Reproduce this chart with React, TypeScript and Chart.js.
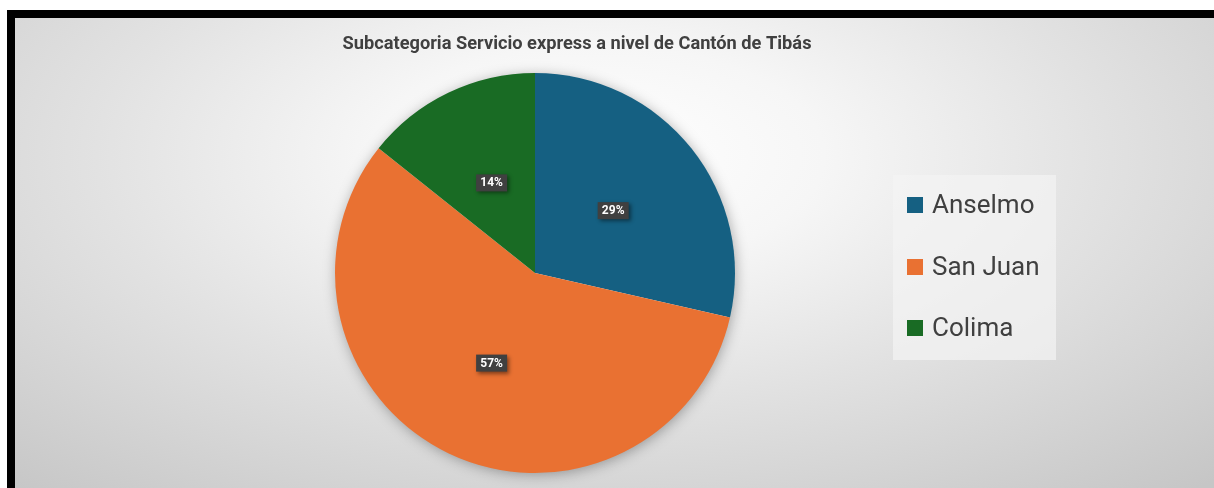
import { useEffect, useRef } from "react";
import { Chart, registerables } from "chart.js";

Chart.register(...registerables);

const chartTitle = "Subcategoria Servicio express a nivel de Cantón de Tibás";
const categories = ["Anselmo", "San Juan", "Colima"];
const values = [2, 4, 1];
const colors = ["#156082", "#E97132", "#196B24"];

const CANVAS_W = 1199;
const CANVAS_H = 470;

const decorPlugin = {
  id: "decor",
  beforeDatasetsDraw(chart: any) {
    const meta = chart.getDatasetMeta(0);
    const arc = meta.data[0];
    if (!arc) return;
    const { x, y, outerRadius } = arc.getProps(["x", "y", "outerRadius"], true);
    const ctx = chart.ctx;
    ctx.save();
    ctx.shadowColor = "rgba(0,0,0,0.35)";
    ctx.shadowBlur = 14;
    ctx.shadowOffsetX = 1;
    ctx.shadowOffsetY = 2;
    ctx.fillStyle = "#ffffff";
    ctx.beginPath();
    ctx.arc(x, y, outerRadius - 1, 0, Math.PI * 2);
    ctx.fill();
    ctx.restore();
  },
  afterDatasetsDraw(chart: any) {
    const ctx = chart.ctx;
    const meta = chart.getDatasetMeta(0);
    const data = chart.data.datasets[0].data as number[];
    const total = data.reduce((a, b) => a + b, 0);
    meta.data.forEach((arc: any, i: number) => {
      const pos = arc.tooltipPosition(true);
      const txt = Math.round((data[i] / total) * 100) + "%";
      const w = 31;
      const h = 17;
      ctx.save();
      ctx.shadowColor = "rgba(0,0,0,0.45)";
      ctx.shadowBlur = 4;
      ctx.shadowOffsetX = 2;
      ctx.shadowOffsetY = 2;
      ctx.fillStyle = "#404040";
      ctx.fillRect(pos.x - w / 2, pos.y - h / 2, w, h);
      ctx.restore();
      ctx.save();
      ctx.fillStyle = "#ffffff";
      ctx.font = "bold 12px Roboto";
      ctx.textAlign = "center";
      ctx.textBaseline = "middle";
      ctx.fillText(txt, pos.x, pos.y + 0.5);
      ctx.restore();
    });
  },
  afterDraw(chart: any) {
    const ctx = chart.ctx;
    // title
    ctx.save();
    ctx.font = "bold 19px Roboto";
    ctx.fillStyle = "#404040";
    ctx.textBaseline = "middle";
    const tw = ctx.measureText(chartTitle).width;
    const target = 469;
    const sx = target / tw;
    ctx.translate(562 - target / 2, 26);
    ctx.scale(sx, 1);
    ctx.fillText(chartTitle, 0, 0);
    ctx.restore();

    // legend
    const bx = 878, by = 157, bw = 163, bh = 185;
    ctx.save();
    ctx.fillStyle = "rgba(244,244,244,0.7)";
    ctx.fillRect(bx, by, bw, bh);
    const rows = [187, 249, 310];
    chart.data.labels.forEach((lab: string, i: number) => {
      const cy = rows[i];
      ctx.fillStyle = (chart.data.datasets[0].backgroundColor as string[])[i];
      ctx.fillRect(892, cy - 8, 16, 16);
      ctx.fillStyle = "#404040";
      ctx.font = "26px Roboto";
      ctx.textBaseline = "middle";
      ctx.textAlign = "left";
      ctx.fillText(lab, 917, cy + 1);
    });
    ctx.restore();
  },
};

export default function App() {
  const ref = useRef<HTMLCanvasElement | null>(null);

  useEffect(() => {
    if (!ref.current) return;
    const chart = new Chart(ref.current, {
      type: "pie",
      data: {
        labels: categories,
        datasets: [
          {
            data: values,
            backgroundColor: colors,
            borderWidth: 0,
          },
        ],
      },
      options: {
        responsive: false,
        maintainAspectRatio: false,
        animation: false,
        layout: { padding: { left: 320, right: 479, top: 55, bottom: 15 } },
        plugins: {
          legend: { display: false },
          tooltip: { enabled: false },
          title: { display: false },
        },
      },
      plugins: [decorPlugin],
    });
    return () => chart.destroy();
  }, []);

  return (
    <div
      style={{
        position: "fixed",
        left: 0,
        top: 0,
        width: 1214,
        height: 488,
        background: "#ffffff",
        overflow: "hidden",
      }}
    >
      <div
        style={{
          position: "absolute",
          left: 7,
          top: 10,
          width: 1220,
          height: 500,
          borderLeft: "8px solid #000",
          borderTop: "8px solid #000",
          boxSizing: "border-box",
          background:
            "radial-gradient(ellipse 75% 90% at 48% 28%, #ffffff 0%, #f6f6f6 25%, #e2e2e2 55%, #c6c6c6 100%)",
        }}
      />
      <canvas
        ref={ref}
        width={CANVAS_W}
        height={CANVAS_H}
        style={{ position: "absolute", left: 15, top: 18, width: CANVAS_W, height: CANVAS_H }}
      />
    </div>
  );
}
